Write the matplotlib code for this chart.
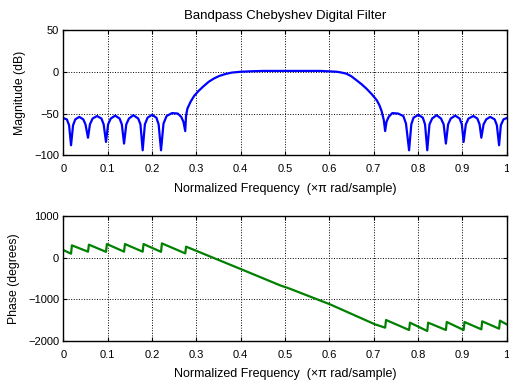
import numpy as np
import matplotlib
matplotlib.use('Agg')
import matplotlib.pyplot as plt

plt.rcParams['font.family'] = ['Liberation Sans', 'DejaVu Sans']

# --- Magnitude response
f_mag = [0.000, 0.008, 0.013, 0.0174,
         0.022, 0.027, 0.036, 0.045, 0.050, 0.0557,
         0.060, 0.066, 0.076, 0.086, 0.091, 0.0963,
         0.101, 0.107, 0.117, 0.127, 0.132, 0.137,
         0.142, 0.148, 0.158, 0.169, 0.174, 0.179,
         0.184, 0.190, 0.200, 0.210, 0.215, 0.2204,
         0.226, 0.233, 0.245, 0.258, 0.266, 0.271, 0.275,
         0.277, 0.280, 0.287, 0.295, 0.305, 0.316, 0.328, 0.340, 0.352, 0.365,
         0.380, 0.400, 0.420, 0.450, 0.500, 0.550, 0.580, 0.600, 0.617,
         0.628, 0.639, 0.650, 0.662, 0.673, 0.684, 0.696, 0.707, 0.713, 0.718, 0.723, 0.726,
         0.729, 0.734, 0.742, 0.755, 0.767, 0.773, 0.780,
         0.785, 0.790, 0.801, 0.811, 0.816, 0.821,
         0.826, 0.832, 0.842, 0.852, 0.858, 0.863,
         0.868, 0.874, 0.884, 0.894, 0.899, 0.903,
         0.908, 0.914, 0.925, 0.934, 0.939, 0.943,
         0.948, 0.954, 0.963, 0.973, 0.978, 0.983,
         0.987, 0.993, 1.000]
mag_db = [-55.5, -57, -64, -88,
          -64, -57, -54, -57, -63, -79,
          -63, -56, -53, -56, -63, -84,
          -63, -56, -52.5, -56, -63, -86,
          -63, -56, -52, -56, -63, -94,
          -63, -55, -51.5, -55, -63, -94,
          -62, -53, -49.5, -50, -54, -60, -71,
          -52, -44, -36, -29, -23, -17.5, -12, -8, -5, -2.8,
          -1, 0, 0.5, 1, 1, 1, 1, 0.5, 0,
          -1, -2.4, -5.5, -10.4, -15, -20.3, -27, -34, -40, -47, -58, -71,
          -60, -54, -49.5, -50, -53, -62, -94,
          -63, -55, -51.5, -55, -63, -94,
          -63, -56, -52, -56, -63, -86,
          -63, -56, -52.5, -56, -63, -84,
          -63, -56, -53, -56, -63, -79,
          -63, -57, -54, -57, -64, -88,
          -64, -57, -55.5]

# --- Phase response
f_ph = [0.000, 0.0174, 0.0194,
        0.0557, 0.0577,
        0.0963, 0.0983,
        0.137, 0.139,
        0.179, 0.181,
        0.2204, 0.2224,
        0.275, 0.277,
        0.301, 0.402, 0.489, 0.511, 0.6016, 0.703,
        0.726, 0.728,
        0.780, 0.782,
        0.821, 0.823,
        0.863, 0.865,
        0.903, 0.905,
        0.943, 0.945,
        0.983, 0.985,
        1.000]
phase_deg = [183, 96, 295,
             144, 312,
             140, 327,
             144, 327,
             144, 327,
             140, 343,
             103, 264,
             160, -281, -664, -745, -1120, -1600,
             -1680, -1496,
             -1736, -1560,
             -1760, -1560,
             -1736, -1544,
             -1736, -1544,
             -1720, -1528,
             -1704, -1512,
             -1600]

xticks = np.arange(0, 1.01, 0.1)
xtick_labels = ['0', '0.1', '0.2', '0.3', '0.4', '0.5', '0.6', '0.7', '0.8', '0.9', '1']
xlab = u'Normalized Frequency  (\u00d7\u03c0 rad/sample)'

fig = plt.figure(figsize=(5.09, 3.86), dpi=100)
ax1 = fig.add_axes([0.1244, 0.5977, 0.8709, 0.3246])
ax2 = fig.add_axes([0.1244, 0.1166, 0.8709, 0.3238])

ax1.plot(f_mag, mag_db, color='#0000ff', lw=1.6)
ax1.set_ylim(-100, 50)
ax1.set_yticks([-100, -50, 0, 50])
ax1.set_ylabel('Magnitude (dB)', fontsize=8.8, labelpad=6)
ax1.set_title('Bandpass Chebyshev Digital Filter', fontsize=9.5, pad=8)

ax2.plot(f_ph, phase_deg, color='#008000', lw=1.6)
ax2.set_ylim(-2000, 1000)
ax2.set_yticks([-2000, -1000, 0, 1000])
ax2.set_ylabel('Phase (degrees)', fontsize=8.8, labelpad=6)

for ax in (ax1, ax2):
    ax.set_xlim(0, 1)
    ax.set_xticks(xticks)
    ax.set_xticklabels(xtick_labels)
    ax.set_xlabel(xlab, fontsize=9, labelpad=6)
    ax.grid(True, color='k', ls=':', lw=0.7)
    ax.tick_params(direction='in', labelsize=8, length=3, top=True, right=True)
    ax.tick_params(axis='x', pad=6.5)
    ax.tick_params(axis='y', pad=3)
    for s in ax.spines.values():
        s.set_linewidth(1.0)

fig.savefig('out.png', dpi=100)
